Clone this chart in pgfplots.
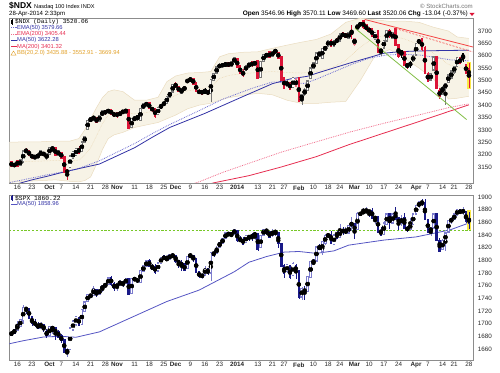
\documentclass[border=0pt]{standalone}
\usepackage{pgfplots}
\pgfplotsset{compat=1.18}
\usepackage{pgfplotstable}
\usepgfplotslibrary{fillbetween}
\usepackage{fontspec}
\setmainfont{Liberation Sans}
\newfontfamily\monofont{Liberation Mono}

\definecolor{cred}{RGB}{220,20,55}
\definecolor{hred}{RGB}{235,120,140}
\definecolor{hblack}{RGB}{120,120,120}
\definecolor{navy}{RGB}{25,25,135}
\definecolor{hnavy}{RGB}{125,125,205}
\definecolor{mablue}{RGB}{50,50,165}
\definecolor{emablue}{RGB}{110,110,210}
\definecolor{mared}{RGB}{230,45,80}
\definecolor{emared}{RGB}{240,110,140}
\definecolor{bbfill}{RGB}{247,243,230}
\definecolor{bbline}{RGB}{234,220,192}
\definecolor{bbmid}{RGB}{234,210,170}
\definecolor{bbtext}{RGB}{225,160,40}
\definecolor{trred}{RGB}{245,70,70}
\definecolor{trgreen}{RGB}{130,190,70}
\definecolor{hl}{RGB}{250,232,70}
\definecolor{lgreen}{RGB}{120,200,40}
\definecolor{spxma}{RGB}{85,85,195}
\definecolor{frame}{RGB}{140,140,140}

% NDX hollow black candles
\pgfplotstableread{
i o h l c
-1 3156 3165 3150 3160
1 3158 3180 3156 3176
2 3176 3216 3168 3212
7 3189 3204 3185 3200
8 3199 3216 3195 3212
10 3186 3206 3180 3202
11 3204 3230 3202 3226
12 3220 3233 3210 3229
14 3201 3216 3196 3213
18 3152 3194 3148 3192
19 3186 3212 3184 3209
20 3198 3226 3194 3223
22 3216 3250 3212 3248
23 3252 3275 3248 3272
24 3305 3340 3298 3336
25 3338 3353 3330 3345
26 3346 3356 3338 3352
28 3338 3358 3335 3355
29 3360 3378 3355 3374
31 3372 3386 3366 3381
35 3360 3375 3356 3370
37 3374 3384 3366 3380
39 3312 3346 3308 3343
40 3342 3352 3336 3349
41 3345 3362 3335 3357
42 3342 3386 3340 3384
43 3390 3406 3384 3402
48 3364 3392 3360 3389
49 3392 3402 3386 3399
51 3410 3436 3408 3432
52 3436 3455 3432 3450
53 3456 3484 3452 3480
56 3452 3468 3444 3464
57 3465 3478 3458 3470
59 3500 3512 3494 3507
66 3450 3506 3414 3502
67 3503 3530 3498 3526
68 3530 3556 3528 3552
69 3556 3566 3550 3562
71 3561 3571 3558 3568
73 3560 3576 3557 3573
74 3574 3594 3571 3590
78 3542 3562 3538 3558
79 3556 3572 3552 3568
81 3565 3580 3560 3574
83 3515 3580 3512 3575
84 3580 3606 3578 3602
85 3598 3612 3594 3606
87 3600 3618 3596 3615
88 3616 3626 3608 3622
92 3480 3500 3474 3494
94 3474 3512 3470 3508
97 3428 3445 3402 3438
98 3445 3468 3436 3462
99 3462 3498 3460 3495
100 3510 3552 3506 3548
101 3550 3572 3545 3570
102 3572 3612 3568 3608
103 3602 3616 3595 3612
104 3592 3632 3588 3628
105 3626 3640 3620 3635
106 3640 3664 3636 3660
108 3642 3664 3636 3660
110 3662 3690 3660 3685
113 3672 3695 3668 3692
116 3708 3728 3706 3724
117 3725 3734 3720 3730
122 3668 3694 3662 3690
124 3615 3632 3600 3625
125 3634 3664 3630 3660
126 3662 3702 3660 3700
128 3672 3694 3668 3690
135 3580 3600 3576 3598
136 3605 3650 3602 3648
137 3652 3668 3648 3664
141 3505 3530 3498 3525
142 3545 3596 3540 3592
145 3462 3478 3440 3466
146 3470 3490 3402 3486
147 3495 3525 3490 3520
148 3512 3540 3505 3535
149 3535 3560 3528 3555
150 3558 3595 3555 3590
}\nA

% NDX filled red candles
\pgfplotstableread{
i o h l c
-2 3168 3172 3150 3155
0 3172 3178 3154 3157
3 3218 3228 3205 3210
4 3212 3219 3195 3198
5 3196 3203 3184 3190
6 3191 3200 3183 3186
9 3206 3211 3193 3201
13 3226 3229 3195 3200
15 3206 3209 3186 3189
16 3188 3192 3128 3131
17 3136 3143 3096 3128
21 3222 3233 3204 3209
27 3348 3350 3326 3334
30 3374 3381 3362 3368
32 3380 3383 3360 3364
33 3366 3374 3352 3358
34 3368 3372 3350 3356
38 3380 3382 3304 3308
45 3408 3411 3384 3388
46 3388 3394 3374 3380
47 3383 3390 3348 3357
54 3484 3495 3468 3474
55 3472 3479 3452 3458
60 3505 3508 3484 3488
61 3487 3490 3454 3457
62 3458 3464 3444 3449
63 3456 3462 3444 3447
65 3455 3460 3442 3448
70 3563 3567 3556 3560
72 3570 3573 3555 3560
75 3586 3590 3550 3555
76 3556 3560 3525 3530
77 3532 3545 3515 3524
80 3572 3576 3555 3562
82 3576 3582 3505 3510
86 3612 3616 3590 3596
89 3610 3614 3590 3594
90 3594 3597 3502 3505
91 3508 3512 3466 3472
93 3488 3492 3462 3468
96 3508 3512 3412 3420
107 3660 3666 3634 3640
109 3666 3672 3652 3655
111 3690 3694 3675 3680
112 3688 3692 3670 3676
114 3698 3726 3668 3688
118 3738 3742 3710 3716
119 3722 3726 3700 3708
120 3708 3715 3690 3700
121 3705 3712 3676 3680
123 3698 3705 3612 3618
127 3700 3708 3672 3682
129 3708 3712 3640 3645
130 3642 3645 3590 3602
132 3612 3618 3560 3565
133 3566 3572 3545 3558
138 3665 3670 3620 3628
139 3632 3640 3525 3530
140 3525 3535 3495 3500
143 3592 3598 3465 3470
144 3455 3470 3425 3440
151 3588 3592 3568 3572
153 3562 3568 3528 3533
154 3547 3570 3470 3520
}\nB

% NDX filled black candles
\pgfplotstableread{
i o h l c
36 3376 3380 3364 3372
44 3405 3412 3397 3403
50 3406 3416 3398 3404
58 3500 3506 3488 3497
64 3462 3468 3448 3452
131 3618 3625 3592 3608
134 3568 3580 3552 3562
152 3605 3612 3575 3590
}\nC

% NDX hollow red candles
\pgfplotstableread{
i o h l c
95 3480 3510 3476 3500
115 3650 3672 3640 3668
}\nD

\pgfplotstableread{
i lo mid up
-3 3088 3169 3250
3 3092 3172 3252
8 3095 3174 3252
13 3098 3176 3255
18 3092 3174 3255
21 3090 3178 3265
23 3095 3198 3300
25 3110 3228 3345
27 3160 3275 3390
29 3220 3325 3430
31 3265 3360 3455
33 3280 3371 3462
36 3290 3373 3455
40 3310 3365 3420
44 3320 3370 3420
48 3330 3380 3432
51 3345 3420 3495
54 3360 3440 3518
58 3385 3458 3530
62 3400 3466 3532
66 3408 3472 3536
69 3420 3508 3596
72 3430 3520 3608
77 3440 3528 3614
82 3448 3532 3616
87 3442 3536 3630
92 3420 3532 3643
97 3407 3530 3655
102 3407 3536 3666
107 3412 3550 3688
112 3415 3581 3735
117 3500 3635 3752
122 3600 3676 3745
127 3625 3682 3739
132 3590 3668 3740
137 3550 3645 3735
142 3505 3610 3715
147 3425 3565 3700
150 3428 3552 3676
154 3436 3553 3670
}\bbn

\pgfplotstableread{
i v
-3 3072
5 3098
10 3112
17 3133
28 3162
40 3228
46 3270
52 3310
64 3367
76 3430
87 3487
93 3506
99 3517
102 3529
113 3569
125 3610
130 3616
136 3619
145 3621
154 3622.28
}\mafn

\pgfplotstableread{
i v
-3 3086
10 3118
20 3140
28 3175
40 3245
46 3285
52 3322
62 3378
70 3424
80 3468
87 3494
93 3490
98 3488
102 3505
108 3535
114 3565
120 3590
126 3603
132 3606
138 3602
143 3592
148 3583
154 3579.66
}\emafn

\pgfplotstableread{
i v
60 3062
67 3086
79 3115
90 3150
102 3192
113 3240
125 3287
136 3330
147 3374
154 3401.32
}\matn

\pgfplotstableread{
i v
50 3045
62 3090
70 3128
79 3165
90 3210
102 3252
113 3290
125 3327
136 3358
147 3390
154 3405.44
}\ematn

% SPX hollow candles
\pgfplotstableread{
i o h l c
0 1690 1704 1689 1698
1 1697 1706 1696 1705
2 1705 1729 1700 1725
8 1694 1703 1693 1699
11 1682 1697 1682 1695
12 1692 1696 1684 1694
17 1656 1662 1647 1657
18 1660 1693 1660 1692
19 1691 1704 1689 1703
20 1700 1712 1697 1710
22 1700 1722 1699 1721
23 1720 1734 1719 1733
24 1736 1746 1735 1745
26 1746 1759 1745 1754
28 1748 1754 1746 1753
29 1755 1760 1750 1759
30 1760 1764 1756 1762
31 1763 1772 1761 1771
34 1758 1765 1751 1762
35 1762 1768 1759 1767
37 1765 1771 1763 1770
39 1749 1771 1747 1770
40 1770 1773 1767 1771
42 1766 1783 1765 1783
43 1783 1792 1782 1791
44 1791 1799 1790 1798
48 1784 1796 1783 1795
49 1796 1805 1794 1804
51 1801 1808 1800 1803
52 1803 1809 1802 1808
58 1788 1806 1788 1805
59 1806 1811 1805 1808
63 1775 1780 1771 1776
64 1778 1791 1777 1786
66 1781 1812 1768 1811
68 1812 1823 1811 1818
69 1822 1829 1822 1827
70 1828 1834 1828 1833
71 1835 1843 1835 1842
74 1842 1849 1842 1848
78 1829 1840 1829 1838
81 1840 1843 1832 1842
83 1821 1839 1820 1838
84 1840 1850 1840 1848
87 1841 1850 1837 1844
88 1844 1847 1839 1846
92 1783 1793 1780 1792
94 1777 1798 1777 1794
97 1743 1758 1738 1755
99 1752 1774 1752 1773
100 1774 1798 1774 1797
101 1796 1800 1792 1800
102 1800 1821 1800 1820
104 1815 1830 1809 1829
105 1828 1841 1825 1838
106 1839 1843 1835 1840
108 1826 1842 1824 1839
110 1837 1858 1837 1847
112 1845 1853 1841 1846
113 1844 1855 1842 1854
114 1855 1868 1847 1859
116 1850 1876 1850 1873
118 1875 1883 1874 1877
119 1877 1884 1874 1878
122 1866 1869 1858 1868
125 1842 1862 1842 1858
126 1858 1873 1858 1872
128 1860 1874 1857 1872
131 1860 1871 1855 1865
134 1850 1867 1850 1857
135 1858 1873 1858 1872
136 1874 1886 1873 1886
137 1886 1893 1883 1891
141 1846 1852 1838 1851
142 1852 1872 1852 1872
145 1818 1834 1816 1830
146 1831 1845 1814 1842
147 1846 1863 1846 1862
148 1862 1869 1857 1865
149 1865 1873 1863 1872
150 1872 1880 1872 1879
152 1877 1884 1871 1878
}\sA

% SPX filled candles
\pgfplotstableread{
i o h l c
-2 1685 1689 1680 1683
-1 1689 1692 1684 1686
3 1725 1727 1716 1722
4 1722 1725 1708 1710
5 1710 1711 1697 1701
6 1702 1707 1694 1698
7 1698 1703 1691 1693
9 1697 1698 1687 1692
10 1687 1692 1677 1682
13 1693 1695 1674 1684
14 1686 1690 1677 1680
15 1680 1683 1670 1674
16 1674 1676 1655 1656
21 1709 1711 1697 1698
25 1745 1747 1740 1744
27 1752 1753 1742 1747
32 1772 1775 1760 1763
33 1762 1766 1752 1757
36 1765 1767 1758 1762
38 1770 1771 1746 1747
41 1769 1772 1764 1768
45 1799 1802 1789 1791
46 1790 1795 1785 1787
47 1789 1794 1778 1782
50 1806 1808 1800 1802
53 1808 1811 1805 1806
54 1807 1808 1796 1800
55 1799 1800 1788 1796
56 1795 1800 1783 1793
57 1793 1795 1783 1785
60 1807 1808 1798 1802
61 1802 1803 1780 1782
62 1781 1783 1772 1775
65 1786 1787 1777 1781
67 1811 1816 1806 1809
72 1843 1844 1838 1841
73 1842 1843 1837 1840
75 1846 1847 1829 1832
76 1833 1838 1829 1831
77 1832 1837 1824 1827
79 1838 1840 1831 1836
80 1839 1843 1830 1837
82 1841 1843 1815 1819
85 1848 1849 1840 1846
86 1844 1846 1835 1838
89 1842 1843 1820 1828
90 1826 1827 1790 1791
91 1791 1795 1772 1781
93 1790 1791 1770 1774
95 1791 1794 1771 1783
96 1782 1785 1739 1742
98 1753 1760 1738 1752
103 1820 1826 1816 1819
107 1840 1847 1826 1828
109 1841 1847 1836 1836
111 1848 1852 1840 1845
115 1857 1857 1834 1846
117 1874 1876 1871 1873
120 1878 1879 1868 1877
121 1878 1882 1866 1868
123 1868 1870 1844 1846
124 1846 1852 1839 1841
127 1872 1874 1850 1861
129 1874 1884 1864 1866
130 1867 1868 1848 1858
132 1867 1875 1852 1852
133 1850 1855 1845 1849
138 1891 1897 1886 1889
139 1890 1897 1863 1865
140 1863 1865 1845 1846
143 1872 1872 1833 1833
144 1830 1836 1815 1815
151 1879 1879 1874 1875
153 1876 1877 1859 1863
154 1865 1877 1850 1860.22
}\sB

\pgfplotstableread{
i v
-3 1668
2 1673
9 1679
15 1680
20 1678.5
28 1687
39.5 1711
51 1735
62 1753
74 1782
79 1797
85 1806
91 1813
96 1814
102 1811
108 1815
113 1824
125 1832
136 1837
147.5 1848
154 1858.96
}\spxma

% wick: table, colour
\newcommand\cwick[2]{%
 \addplot[only marks, mark=none, forget plot,
   error bars/.cd, y dir=both, y explicit, error mark=none,
   error bar style={line width=0.5pt, color=#2}]
   table[x=i, y expr={(\thisrow{h}+\thisrow{l})/2}, y error expr={(\thisrow{h}-\thisrow{l})/2}]{#1};}
% body: table, colour, width, cap
\newcommand\cbody[4]{%
 \addplot[only marks, mark=none, forget plot,
   error bars/.cd, y dir=both, y explicit, error mark=none,
   error bar style={line width=#3, color=#2, line cap=#4}]
   table[x=i, y expr={(\thisrow{o}+\thisrow{c})/2}, y error expr={abs(\thisrow{o}-\thisrow{c})/2}]{#1};}

\pgfplotsset{chart/.style={
  scale only axis, width=464pt, height=165pt, anchor=south west,
  xmin=-2.73, xmax=155.5,
  axis line style={frame, line width=0.4pt},
  major tick length=0pt,
  xtick={0,5,11,15,20,25,30,34,40,45,50,54,59,64,69,75,82,87,91,96,101,106,110,115,120,125,130,136,140,145,149,154},
  xticklabels={16,23,\textbf{Oct},7,14,21,28,\textbf{Nov},11,18,25,\textbf{Dec},9,16,23,\textbf{2014},13,21,27,\textbf{Feb},10,18,24,\textbf{Mar},10,17,24,\textbf{Apr},7,14,21,28},
  ticklabel style={font=\fontsize{6.3}{7}\selectfont, text=black!85},
  xticklabel style={yshift=1pt},
  yticklabel pos=right,
  yticklabel style={anchor=west, xshift=1pt},
  /pgf/number format/1000 sep={},
  /pgf/number format/assume math mode=true,
},
ndxax/.style={chart, at={(9.3pt,189pt)}, ymin=3085.3, ymax=3752.6, ytick={3150,3200,...,3700}},
spxax/.style={chart, at={(9.3pt,12pt)}, ymin=1642.6, ymax=1903.2, ytick={1660,1680,...,1900}},
}

\begin{document}
\begin{tikzpicture}
\path (0,0) rectangle (500pt,372pt);

% ---------------- NDX: bands, averages, highlight ----------------
\begin{axis}[ndxax]
 \addplot[name path=bbup, draw=none, forget plot] table[x=i,y=up]{\bbn};
 \addplot[name path=bblo, draw=none, forget plot] table[x=i,y=lo]{\bbn};
 \addplot[bbfill, forget plot] fill between[of=bbup and bblo];
 \addplot[bbline, line width=0.5pt, forget plot] table[x=i,y=up]{\bbn};
 \addplot[bbline, line width=0.5pt, forget plot] table[x=i,y=lo]{\bbn};
 \addplot[bbmid, densely dotted, line width=0.5pt, forget plot] table[x=i,y=mid]{\bbn};
 \addplot[emared, densely dotted, line width=0.8pt] table[x=i,y=v]{\ematn};
 \addplot[mared, line width=0.8pt] table[x=i,y=v]{\matn};
 \addplot[emablue, densely dotted, line width=0.8pt] table[x=i,y=v]{\emafn};
 \addplot[mablue, line width=0.8pt] table[x=i,y=v]{\mafn};
 \addplot[only marks, mark=none, error bars/.cd, y dir=both, y explicit, error mark=none,
   error bar style={line width=4.6pt, color=hl}] coordinates {(154,3520) +- (0,54)};
\end{axis}
% ---------------- NDX: candle wicks and bodies ----------------
\begin{axis}[ndxax, hide axis]
 \cwick{\nA}{hblack}
 \cwick{\nC}{black}
 \cwick{\nB}{cred}
 \cwick{\nD}{hred}
 \cbody{\nC}{black}{2.6pt}{rect}
 \cbody{\nB}{cred}{2.6pt}{rect}
 \cbody{\nA}{hblack}{2.6pt}{rect}
 \cbody{\nD}{hred}{2.6pt}{rect}
\end{axis}
% ---------------- NDX: hollow interiors and trend lines ----------------
\begin{axis}[ndxax, hide axis]
 \cbody{\nA}{white}{1.2pt}{butt}
 \cbody{\nD}{white}{1.2pt}{butt}
 \addplot[trred, line width=0.8pt] coordinates {(118.5,3746.5) (155.5,3635)};
 \addplot[trred, dashed, dash pattern=on 2pt off 1.5pt, line width=0.6pt] coordinates {(129,3710) (155.5,3615)};
 \addplot[trgreen, line width=0.8pt] coordinates {(115.1,3712) (153.2,3342)};
\end{axis}

% ---------------- SPX ----------------
\begin{axis}[spxax]
 \addplot[lgreen, line width=1.2pt, dash pattern=on 2.2pt off 1.6pt] coordinates {(-2.73,1847) (155.5,1847)};
 \addplot[spxma, line width=0.8pt] table[x=i,y=v]{\spxma};
 \addplot[only marks, mark=none, error bars/.cd, y dir=both, y explicit, error mark=none,
   error bar style={line width=4.6pt, color=hl}] coordinates {(154,1864) +- (0,16)};
\end{axis}
\begin{axis}[spxax, hide axis]
 \cwick{\sA}{hnavy}
 \cwick{\sB}{navy}
 \cbody{\sB}{navy}{2.6pt}{rect}
 \cbody{\sA}{hnavy}{2.6pt}{rect}
\end{axis}
\begin{axis}[spxax, hide axis]
 \cbody{\sA}{white}{1.2pt}{butt}
\end{axis}

% ---------------- header ----------------
\node[anchor=base west, inner sep=0] at (9pt,363pt)
  {\fontsize{8.5}{9}\selectfont\bfseries \$NDX\ \mdseries\fontsize{5.6}{6}\selectfont Nasdaq 100 Index INDX};
\node[anchor=base west, inner sep=0] at (9pt,356pt)
  {\fontsize{6.1}{7}\selectfont 28-Apr-2014 2:33pm};
\node[anchor=base east, inner sep=0, text=black!55] at (473pt,363pt)
  {\fontsize{6.1}{7}\selectfont \textcopyright\ StockCharts.com};
\node[anchor=base east, inner sep=0] at (468pt,356pt)
  {\fontsize{6.5}{7}\selectfont \textbf{Open} 3546.96 \textbf{High} 3570.11 \textbf{Low} 3469.60 \textbf{Last} 3520.06 \textbf{Chg} -13.04 (-0.37\%)};
\fill[cred] (469.5pt,359pt) -- (474.5pt,359pt) -- (472pt,356pt) -- cycle;

% ---------------- NDX legend ----------------
\fill[black] (11.2pt,348.3pt) rectangle (13pt,352.3pt);
\draw[black, line width=0.4pt] (12.1pt,347.3pt) -- (12.1pt,353.3pt);
\node[anchor=west, inner sep=0] at (15pt,350.3pt) {\monofont\fontsize{6.1}{7}\selectfont \$NDX (Daily) 3520.06};
\draw[emablue, densely dotted, line width=0.8pt] (11pt,344.3pt) -- (16.5pt,344.3pt);
\node[anchor=west, inner sep=0, text=mablue] at (17pt,344.3pt) {\fontsize{5.8}{6}\selectfont EMA(50) 3579.66};
\draw[emared, densely dotted, line width=0.8pt] (11pt,337.9pt) -- (16.5pt,337.9pt);
\node[anchor=west, inner sep=0, text=mared] at (17pt,337.9pt) {\fontsize{5.8}{6}\selectfont EMA(200) 3405.44};
\draw[mablue, line width=0.9pt] (11pt,331.5pt) -- (16.5pt,331.5pt);
\node[anchor=west, inner sep=0, text=mablue] at (17pt,331.5pt) {\fontsize{5.8}{6}\selectfont MA(50) 3622.28};
\draw[mared, line width=0.9pt] (11pt,325.1pt) -- (16.5pt,325.1pt);
\node[anchor=west, inner sep=0, text=mared] at (17pt,325.1pt) {\fontsize{5.8}{6}\selectfont MA(200) 3401.32};
\draw[bbtext, line width=0.4pt] (11pt,316.9pt) -- (16pt,316.9pt) -- (13.5pt,321pt) -- cycle;
\node[anchor=west, inner sep=0, text=bbtext] at (17pt,318.7pt) {\fontsize{5.8}{6}\selectfont BB(20,2.0) 3435.88 - 3552.91 - 3669.94};

% ---------------- SPX legend ----------------
\fill[navy] (11.2pt,171.7pt) rectangle (13pt,175.7pt);
\draw[navy, line width=0.4pt] (12.1pt,170.7pt) -- (12.1pt,176.7pt);
\node[anchor=west, inner sep=0] at (15pt,173.7pt) {\monofont\fontsize{6.3}{7}\selectfont \$SPX 1860.22};
\draw[spxma, line width=0.9pt] (11pt,167.7pt) -- (16.5pt,167.7pt);
\node[anchor=west, inner sep=0, text=mablue] at (17pt,167.7pt) {\fontsize{5.8}{6}\selectfont MA(50) 1858.96};

\pgfresetboundingbox
\path[use as bounding box] (0,0) rectangle (500pt,372pt);
\end{tikzpicture}
\end{document}
